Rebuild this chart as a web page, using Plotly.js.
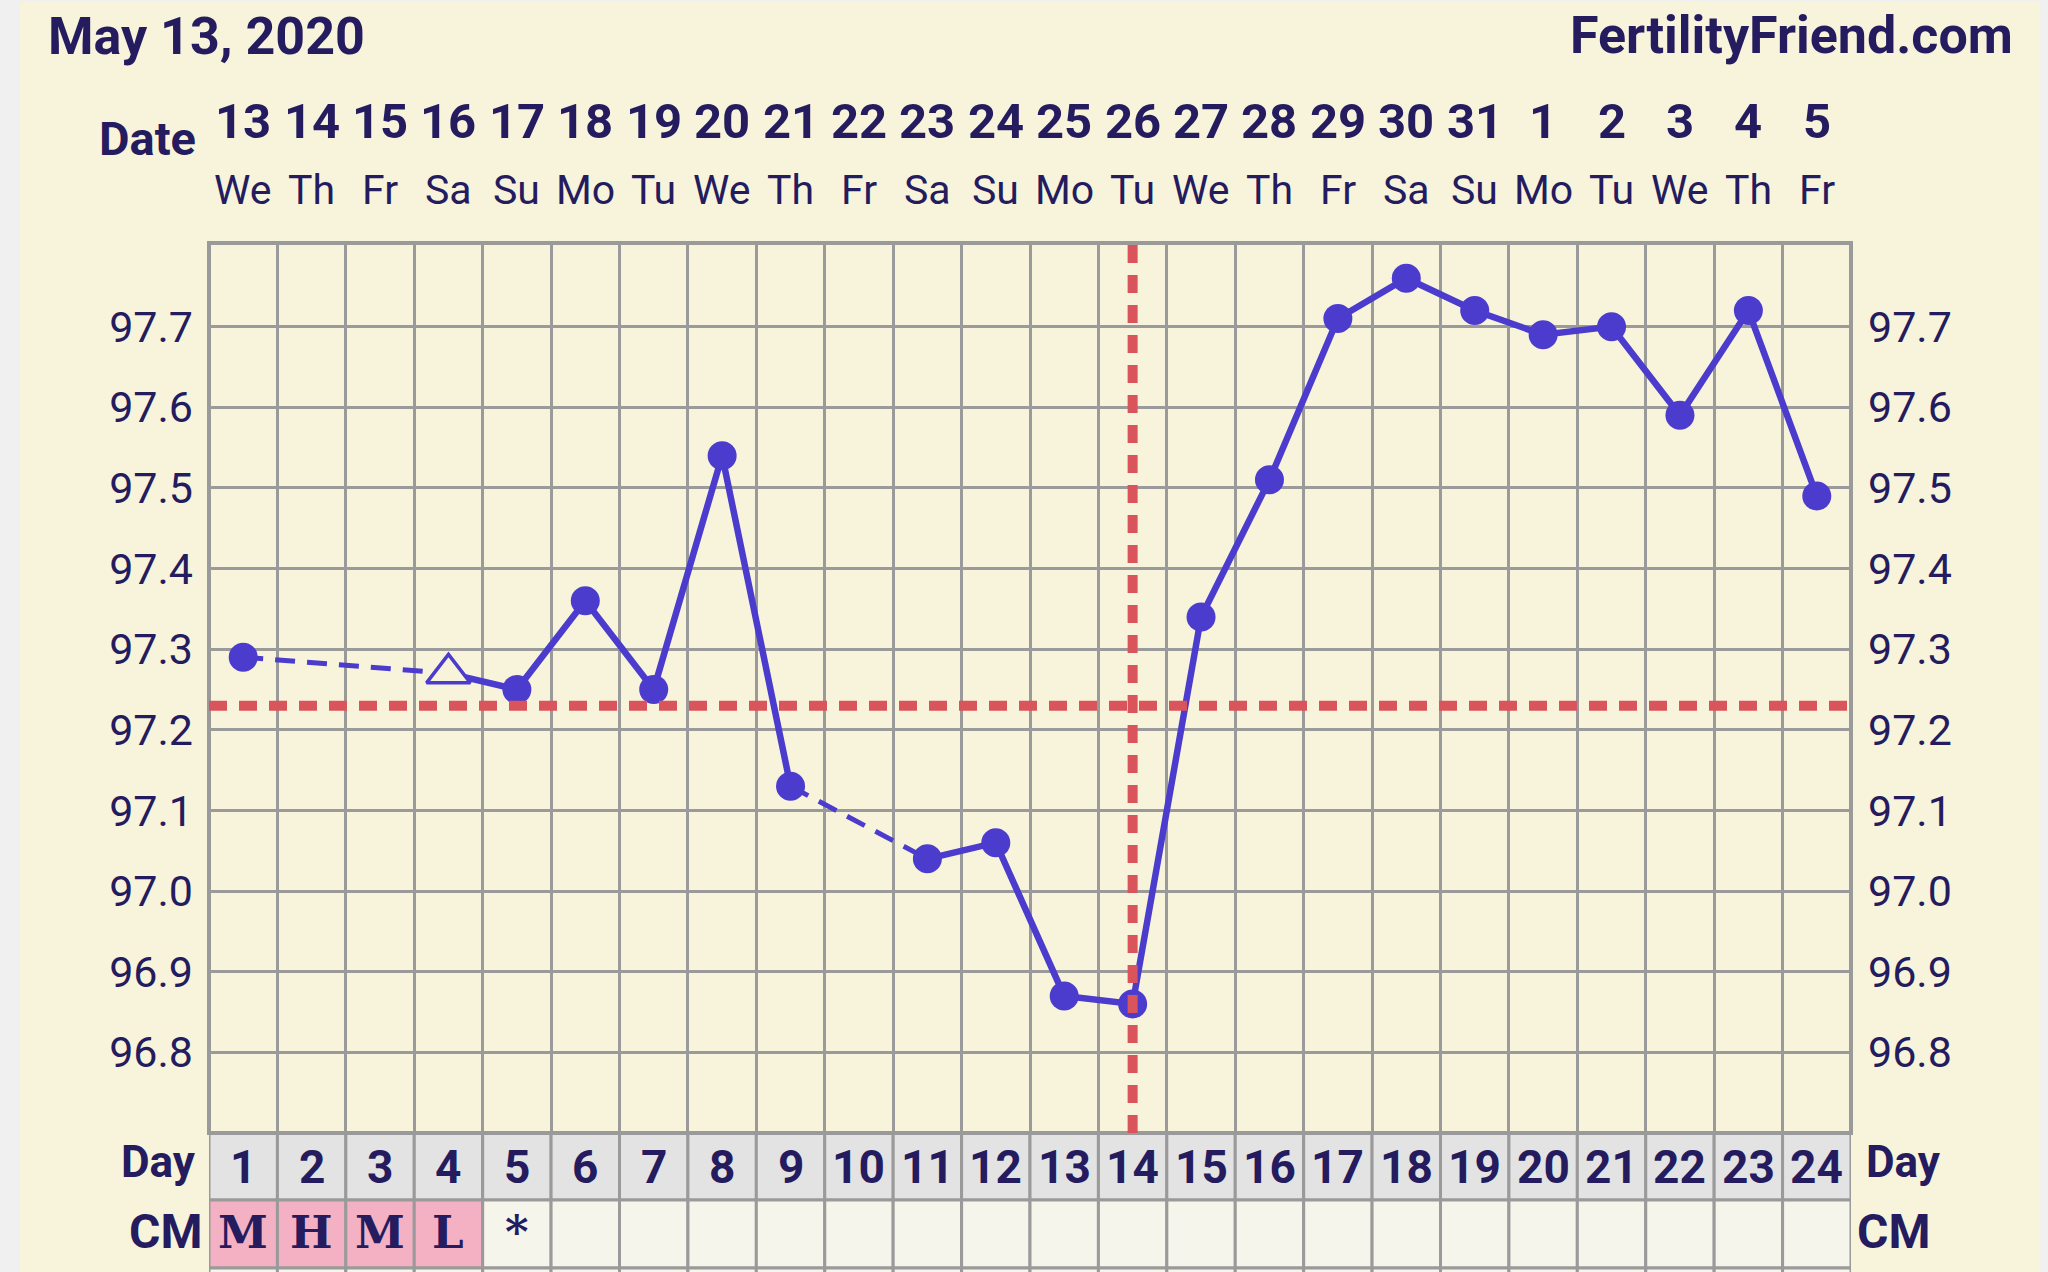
<!DOCTYPE html>
<html>
<head>
<meta charset="utf-8">
<script src="https://cdn.plot.ly/plotly-3.0.1.min.js"></script>
<style>
  html, body { margin: 0; padding: 0; background: #f0f0f0; }
  #chart { width: 2048px; height: 1272px; }
</style>
</head>
<body>
<div id="chart"></div>
<script>
// ---------------- data ----------------
const cycleDays = [1, 2, 3, 4, 5, 6, 7, 8, 9, 10, 11, 12, 13, 14, 15, 16, 17, 18, 19, 20, 21, 22, 23, 24];
const dateLabels = ['13', '14', '15', '16', '17', '18', '19', '20', '21', '22', '23', '24', '25', '26', '27', '28', '29', '30', '31', '1', '2', '3', '4', '5'];
const weekdayLabels = ['We', 'Th', 'Fr', 'Sa', 'Su', 'Mo', 'Tu', 'We', 'Th', 'Fr', 'Sa', 'Su', 'Mo', 'Tu', 'We', 'Th', 'Fr', 'Sa', 'Su', 'Mo', 'Tu', 'We', 'Th', 'Fr'];
const temps = [97.29, null, null, 97.27, 97.25, 97.36, 97.25, 97.54, 97.13, null, 97.04, 97.06, 96.87, 96.86, 97.34, 97.51, 97.71, 97.76, 97.72, 97.69, 97.70, 97.59, 97.72, 97.49];
const hollowDays = [4];
const cmLabels = ['M', 'H', 'M', 'L', '*', '', '', '', '', '', '', '', '', '', '', '', '', '', '', '', '', '', '', ''];
const cmHighlighted = [true, true, true, true, false, false, false, false, false, false, false, false, false, false, false, false, false, false, false, false, false, false, false, false];
const tempTicks = [96.8, 96.9, 97.0, 97.1, 97.2, 97.3, 97.4, 97.5, 97.6, 97.7];
const coverline = 97.23;
const ovulationDay = 14;
const chartDate = 'May 13, 2020';
const siteName = 'FertilityFriend.com';

// ---------------- style / geometry ----------------
const W = 2048, H = 1272;
const L = 209, R = 1851, T = 243, B = 1133;
const yMin = 96.7, yMax = 97.8 + 0.1 * 3 / 80.6;
const navy = '#241c5e';
const blue = '#4b3ccd';
const red = '#d9545b';
const gridGray = '#9a9a9a';
const cream = '#f8f4dc';
const sans = 'Roboto, "Noto Sans", sans-serif';
const serif = '"DejaVu Serif", "Liberation Serif", serif';
const py = p => (B - p) / (B - T);
const px = p => (p - L) / (R - L);

// ---------------- traces ----------------
const gapX = [], gapY = [];
let prev = null;
cycleDays.forEach((d, i) => {
  if (temps[i] === null) return;
  if (prev !== null && d - cycleDays[prev] > 1) {
    gapX.push(cycleDays[prev], d, null);
    gapY.push(temps[prev], temps[i], null);
  }
  prev = i;
});

const solidDays = [], solidTemps = [], hollowX = [], hollowY = [];
cycleDays.forEach((d, i) => {
  if (temps[i] === null) return;
  if (hollowDays.includes(d)) { hollowX.push(d); hollowY.push(temps[i]); }
  else { solidDays.push(d); solidTemps.push(temps[i]); }
});

const traces = [
  { x: gapX, y: gapY, mode: 'lines', line: { color: blue, width: 5, dash: '20px,12px' }, hoverinfo: 'skip', showlegend: false },
  { x: cycleDays, y: temps, mode: 'lines', connectgaps: false, line: { color: blue, width: 6.5 }, hoverinfo: 'skip', showlegend: false },
  { x: solidDays, y: solidTemps, mode: 'markers', marker: { symbol: 'circle', size: 29, color: blue }, showlegend: false },
  { x: hollowX, y: hollowY, mode: 'markers', marker: { symbol: 'triangle-up', size: 38, color: cream, line: { color: blue, width: 3.5 } }, showlegend: false },
  { x: cycleDays, y: temps, yaxis: 'y2', mode: 'lines', line: { width: 0 }, opacity: 0, hoverinfo: 'skip', showlegend: false }
];

// ---------------- shapes ----------------
const shapes = [];
shapes.push({ type: 'rect', xref: 'paper', yref: 'paper', x0: px(20), x1: px(2040), y0: py(1290), y1: py(2), fillcolor: cream, line: { width: 0 }, layer: 'below' });
cycleDays.forEach((d, i) => {
  shapes.push({ type: 'rect', xref: 'x', yref: 'paper', x0: d - 0.5, x1: d + 0.5, y0: py(1200), y1: py(1133), fillcolor: '#e3e3e3', line: { color: gridGray, width: 3 }, layer: 'below' });
  shapes.push({ type: 'rect', xref: 'x', yref: 'paper', x0: d - 0.5, x1: d + 0.5, y0: py(1268), y1: py(1200), fillcolor: cmHighlighted[i] ? '#f3b1c3' : '#f5f5ec', line: { color: gridGray, width: 3 }, layer: 'below' });
  shapes.push({ type: 'rect', xref: 'x', yref: 'paper', x0: d - 0.5, x1: d + 0.5, y0: py(1320), y1: py(1268), fillcolor: '#f5f5ec', line: { color: gridGray, width: 3 }, layer: 'below' });
});
// plot border
shapes.push({ type: 'rect', xref: 'paper', yref: 'paper', x0: 0, x1: 1, y0: 0, y1: 1, fillcolor: 'rgba(0,0,0,0)', line: { color: gridGray, width: 4 }, layer: 'above' });
shapes.push({ type: 'line', xref: 'x', yref: 'y', x0: 0.5, x1: 24.5, y0: coverline, y1: coverline, line: { color: red, width: 10, dash: '18px,12px' }, layer: 'above' });
shapes.push({ type: 'line', xref: 'x', yref: 'paper', x0: ovulationDay, x1: ovulationDay, y0: 0, y1: 1, line: { color: red, width: 10, dash: '18px,12px' }, layer: 'above' });

// ---------------- annotations ----------------
const ann = [];
const txt = (o) => Object.assign({ showarrow: false, borderpad: 0 }, o);
cycleDays.forEach((d, i) => {
  ann.push(txt({ x: d, xref: 'x', y: py(121), yref: 'paper', yanchor: 'middle', text: dateLabels[i], font: { family: sans, size: 49, weight: 700, color: navy } }));
  ann.push(txt({ x: d, xref: 'x', y: py(190), yref: 'paper', yanchor: 'middle', text: weekdayLabels[i], font: { family: sans, size: 41, color: navy } }));
  ann.push(txt({ x: d, xref: 'x', y: py(1166.5), yref: 'paper', yanchor: 'middle', text: String(d), font: { family: sans, size: 46, weight: 700, color: navy } }));
  if (cmLabels[i]) {
    ann.push(txt({ x: d, xref: 'x', y: py(1232), yref: 'paper', yanchor: 'middle', text: cmLabels[i], font: { family: serif, size: 45, weight: 700, color: navy } }));
  }
});
ann.push(txt({ x: px(197), xref: 'paper', xanchor: 'right', y: py(138), yref: 'paper', yanchor: 'middle', text: 'Date', font: { family: sans, size: 47, weight: 700, color: navy } }));
ann.push(txt({ x: px(197), xref: 'paper', xanchor: 'right', y: py(1162), yref: 'paper', yanchor: 'middle', text: 'Day', font: { family: sans, size: 44, weight: 700, color: navy } }));
ann.push(txt({ x: px(1865), xref: 'paper', xanchor: 'left', y: py(1162), yref: 'paper', yanchor: 'middle', text: 'Day', font: { family: sans, size: 44, weight: 700, color: navy } }));
ann.push(txt({ x: px(203), xref: 'paper', xanchor: 'right', y: py(1231), yref: 'paper', yanchor: 'middle', text: 'CM', font: { family: sans, size: 48, weight: 700, color: navy } }));
ann.push(txt({ x: px(1856), xref: 'paper', xanchor: 'left', y: py(1231), yref: 'paper', yanchor: 'middle', text: 'CM', font: { family: sans, size: 48, weight: 700, color: navy } }));
ann.push(txt({ x: px(2014), xref: 'paper', xanchor: 'right', y: py(36), yref: 'paper', yanchor: 'middle', text: siteName, font: { family: sans, size: 52, weight: 700, color: navy } }));

const boundaries = cycleDays.slice(0, -1).map(d => d + 0.5);
const tickText = tempTicks.map(v => v.toFixed(1));

const layout = {
  width: W, height: H,
  margin: { l: L, r: W - R, t: T, b: H - B, pad: 0 },
  paper_bgcolor: '#f0f0f0',
  plot_bgcolor: cream,
  showlegend: false,
  title: { text: chartDate, x: 48 / W, xref: 'container', xanchor: 'left', y: 1 - 36 / H, yref: 'container', yanchor: 'middle',
           font: { family: sans, size: 52, weight: 700, color: navy } },
  xaxis: { range: [0.5, 24.5], tickvals: boundaries, showticklabels: false, ticks: '', showgrid: true, gridcolor: gridGray, gridwidth: 3,
           showline: false, zeroline: false, fixedrange: true },
  yaxis: { range: [yMin, yMax], tickvals: tempTicks, ticktext: tickText, ticks: '', showgrid: true, gridcolor: gridGray, gridwidth: 3,
           showline: false, zeroline: false, fixedrange: true, ticklabelstandoff: 15,
           tickfont: { family: sans, size: 43, color: navy } },
  yaxis2: { range: [yMin, yMax], overlaying: 'y', side: 'right', tickvals: tempTicks, ticktext: tickText, ticks: '', showgrid: false,
            showline: false, zeroline: false, fixedrange: true, ticklabelstandoff: 16, tickfont: { family: sans, size: 43, color: navy } },
  shapes: shapes,
  annotations: ann
};

Plotly.newPlot('chart', traces, layout, { displayModeBar: false, staticPlot: true });
</script>
</body>
</html>
